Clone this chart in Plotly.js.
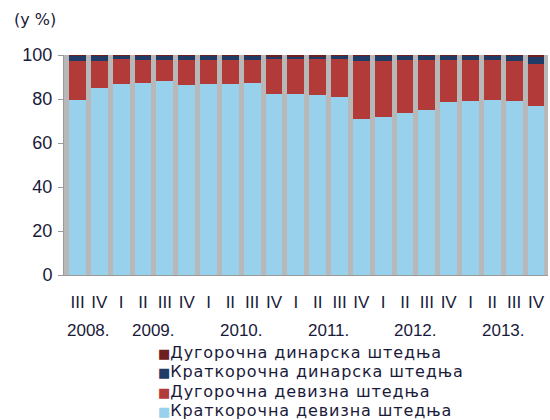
<!DOCTYPE html>
<html>
<head>
<meta charset="utf-8">
<script src="https://cdn.plot.ly/plotly-3.0.1.min.js"></script>
<style>
html,body{margin:0;padding:0;background:#fff;}
#chart{width:550px;height:420px;}
</style>
</head>
<body>
<div id="chart"></div>
<script>
// Quarter labels and year groups
var quarters = ["III","IV","I","II","III","IV","I","II","III","IV","I","II","III","IV","I","II","III","IV","I","II","III","IV"];
var years = ["2008.","2008.","2009.","2009.","2009.","2009.","2010.","2010.","2010.","2010.","2011.","2011.","2011.","2011.","2012.","2012.","2012.","2012.","2013.","2013.","2013.","2013."];

// Series (% share)
var kratkDevizna = [79.5,85.2,87.0,87.5,88.2,86.4,86.7,87.0,87.3,82.2,82.3,81.8,81.0,71.0,72.0,73.5,75.0,78.8,79.2,79.5,79.2,76.7];
var dugoDevizna  = [17.9,12.2,11.0,10.2,9.5,11.5,11.2,10.9,10.6,15.8,15.7,16.2,17.0,26.2,25.2,24.4,22.9,19.0,18.4,18.1,18.1,19.3];
var kratkDinarska = [2.3,2.3,1.7,2.0,2.0,1.8,1.8,1.8,1.8,1.2,1.2,1.2,1.4,2.3,2.2,1.7,1.7,1.8,2.0,2.0,2.3,3.2];
var dugoDinarska  = [0.3,0.3,0.3,0.3,0.3,0.3,0.3,0.3,0.3,0.8,0.8,0.8,0.6,0.5,0.6,0.4,0.4,0.4,0.4,0.4,0.4,0.8];

var names = ["Краткорочна девизна штедња","Дугорочна девизна штедња","Краткорочна динарска штедња","Дугорочна динарска штедња"];
var colors = ["#98d1ec","#b23b39","#1f3b66","#6e2020"];

var idx = quarters.map(function(_, i){ return i; });
var series = [kratkDevizna, dugoDevizna, kratkDinarska, dugoDinarska];

var textColor = "#1a1a3a";
var baseFont = "Liberation Sans, Arial, sans-serif";
var traces = series.map(function(s, k){
  return {
    type: "bar",
    x: idx,
    y: s,
    name: names[k],
    marker: {color: colors[k], line: {width: 0}},
    hoverinfo: "y+name"
  };
});

var annotations = [];
// Year labels centred under each year's quarters
var groups = {};
var order = [];
years.forEach(function(y, i){
  if (!groups[y]) { groups[y] = []; order.push(y); }
  groups[y].push(i);
});
order.forEach(function(y){
  var a = groups[y];
  annotations.push({
    x: (a[0] + a[a.length-1]) / 2, xref: "x", y: -0.25, yref: "paper",
    text: y, showarrow: false, yanchor: "middle",
    font: {family: baseFont, size: 17, color: textColor}
  });
});
// Unit label
annotations.push({
  x: -0.108, xref: "paper", y: 1.16, yref: "paper",
  xanchor: "left", yanchor: "middle",
  text: "(у %)", showarrow: false,
  font: {family: "DejaVu Sans, sans-serif", size: 16, color: textColor}
});
// Legend (reversed order, as in the reference)
for (var k = names.length - 1, row = 0; k >= 0; k--, row++) {
  annotations.push({
    x: 0.193, xref: "paper", y: -0.3545 - row * 0.0864, yref: "paper",
    xanchor: "left", yanchor: "middle", showarrow: false, borderpad: 0,
    text: '<span style="color:' + colors[k] + ';font-size:13px">■</span>' +
          '<span style="letter-spacing:0.9px">' + names[k] + '</span>',
    font: {family: "DejaVu Sans, sans-serif", size: 16, color: textColor}
  });
}

var layout = {
  width: 550, height: 420,
  margin: {l: 64, r: 2, t: 55, b: 145},
  barmode: "stack",
  bargap: 0.23,
  paper_bgcolor: "#ffffff",
  plot_bgcolor: "#b8b8b8",
  font: {family: baseFont, size: 17, color: textColor},
  showlegend: false,
  xaxis: {
    tickmode: "array",
    tickvals: idx,
    ticktext: quarters,
    range: [-0.62, 21.55],
    showgrid: false,
    zeroline: false,
    showline: true,
    linecolor: "#9a9a9a",
    linewidth: 1,
    ticks: "",
    tickfont: {size: 17, color: textColor},
    ticklabelstandoff: 12
  },
  yaxis: {
    range: [0, 100],
    tickvals: [0,20,40,60,80,100],
    showgrid: false,
    zeroline: false,
    showline: true,
    linecolor: "#9a9a9a",
    linewidth: 1,
    ticks: "outside",
    ticklen: 5,
    tickcolor: "#9a9a9a",
    tickfont: {size: 18, color: textColor},
    ticklabelstandoff: 2
  },
  annotations: annotations
};

Plotly.newPlot("chart", traces, layout, {displayModeBar: false, staticPlot: true});
</script>
</body>
</html>
